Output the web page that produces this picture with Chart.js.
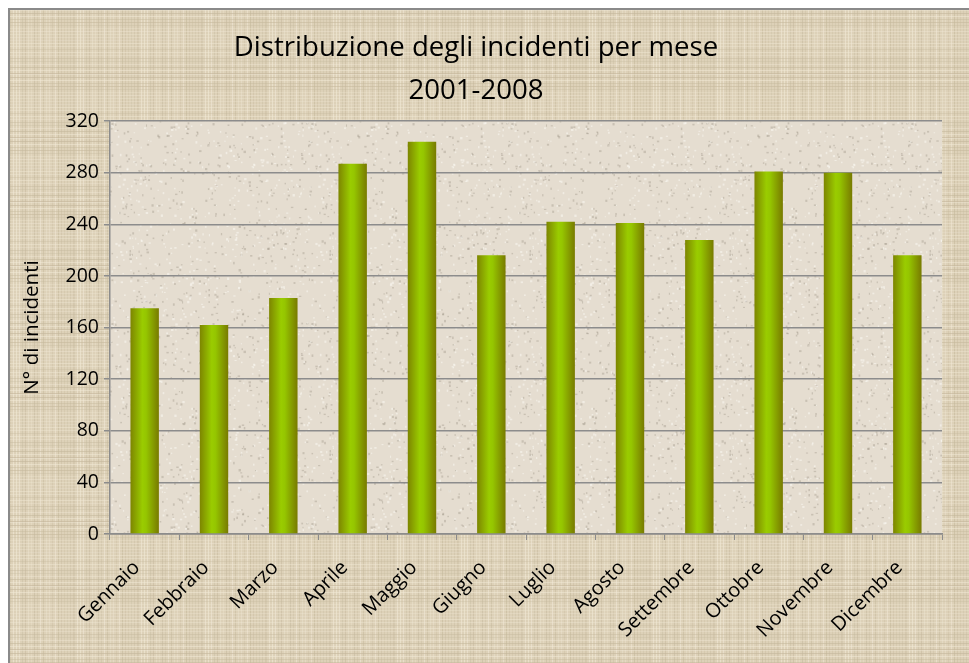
<!DOCTYPE html>
<html>
<head>
<meta charset="utf-8">
<script src="https://cdn.jsdelivr.net/npm/chart.js@4/dist/chart.umd.min.js"></script>
<style>
  html, body { margin: 0; padding: 0; background: #ffffff; }
  #box {
    position: absolute; left: 8px; top: 8px; width: 961px; height: 655px;
    border-top: 2px solid #8a8a8a; border-left: 2px solid #8a8a8a;
    background-color: #ded3bb;
  }
  canvas { display: block; }
</style>
</head>
<body>
<div id="box"><canvas id="grafico"></canvas></div>
<script>
const mesi = ['Gennaio', 'Febbraio', 'Marzo', 'Aprile', 'Maggio', 'Giugno',
  'Luglio', 'Agosto', 'Settembre', 'Ottobre', 'Novembre', 'Dicembre'];
const incidenti = [175, 162, 183, 287, 304, 216, 242, 241, 228, 281, 280, 216];
const titolo = ['Distribuzione degli incidenti per mese', '2001-2008'];
const titoloAsseY = 'N\u00B0 di incidenti';

const FONT = "'Open Sans', 'DejaVu Sans', sans-serif";
const BAR_PCT = 0.41;

// trama della tela di sfondo (solo decorazione)
function seme(n) {
  let x = Math.sin(n * 12.9898) * 43758.5453;
  return x - Math.floor(x);
}
function tela(w, h, base, chiaro, scuro, passo) {
  const c = document.createElement('canvas');
  c.width = w; c.height = h;
  const g = c.getContext('2d');
  g.fillStyle = base;
  g.fillRect(0, 0, w, h);
  for (let i = 0; i < w; i += passo) {
    g.fillStyle = seme(i) > 0.5 ? chiaro : scuro;
    g.globalAlpha = 0.25 + seme(i + 7) * 0.35;
    g.fillRect(i, 0, 1, h);
  }
  for (let j = 0; j < h; j += passo) {
    g.fillStyle = seme(j + 101) > 0.5 ? chiaro : scuro;
    g.globalAlpha = 0.25 + seme(j + 33) * 0.35;
    g.fillRect(0, j, w, 1);
  }
  g.globalAlpha = 1;
  return c;
}
function carta(w, h) {
  const c = document.createElement('canvas');
  c.width = w; c.height = h;
  const g = c.getContext('2d');
  g.fillStyle = '#e5ddd0';
  g.fillRect(0, 0, w, h);
  for (let k = 0; k < 900; k++) {
    const x = seme(k * 3 + 1) * w, y = seme(k * 5 + 2) * h;
    g.fillStyle = seme(k + 9) > 0.5 ? 'rgba(150,140,125,0.35)' : 'rgba(255,255,250,0.45)';
    g.fillRect(x, y, 1 + seme(k) * 1.5, 1 + seme(k + 4) * 1.5);
  }
  return c;
}

const sfondoTela = tela(64, 64, '#ddd1b8', '#f1e9d6', '#c4b79b', 3);
document.getElementById('box').style.backgroundImage = 'url(' + sfondoTela.toDataURL() + ')';
const sfondoCarta = carta(200, 200);

const pianoPlugin = {
  id: 'piano',
  beforeDraw(chart) {
    const { ctx, chartArea: a } = chart;
    ctx.save();
    ctx.fillStyle = ctx.createPattern(sfondoCarta, 'repeat');
    ctx.fillRect(a.left, a.top, a.right - a.left, a.bottom - a.top);
    ctx.restore();
  }
};

function coloreBarra(context) {
  const chart = context.chart;
  const sx = chart.scales.x;
  if (!sx || !chart.chartArea) return '#8fb800';
  const cx = sx.getPixelForValue(context.dataIndex);
  const w = (chart.chartArea.right - chart.chartArea.left) / mesi.length * BAR_PCT;
  const g = chart.ctx.createLinearGradient(cx - w / 2, 0, cx + w / 2, 0);
  g.addColorStop(0, '#7d8500');
  g.addColorStop(0.42, '#9acc00');
  g.addColorStop(0.55, '#95c600');
  g.addColorStop(1, '#787a00');
  return g;
}

new Chart(document.getElementById('grafico'), {
  type: 'bar',
  data: {
    labels: mesi,
    datasets: [{
      label: 'Incidenti',
      data: incidenti,
      backgroundColor: coloreBarra,
      borderWidth: 0,
      barPercentage: BAR_PCT,
      categoryPercentage: 1
    }]
  },
  options: {
    responsive: true,
    maintainAspectRatio: false,
    animation: false,
    layout: { padding: { left: 0, right: 29, top: 0, bottom: 0 } },
    plugins: {
      legend: { display: false },
      tooltip: { enabled: false },
      title: {
        display: true,
        text: titolo,
        color: '#000000',
        font: { family: FONT, size: 27.6, weight: 'normal', lineHeight: 1.58 },
        padding: { top: 16, bottom: 8 }
      }
    },
    scales: {
      x: {
        grid: { drawOnChartArea: false, drawTicks: true, tickLength: 6, color: '#8c8c8c' },
        border: { color: '#8c8c8c', width: 1.5 },
        ticks: {
          color: '#000000', maxRotation: 45, minRotation: 45, padding: 16,
          labelOffset: -8,
          font: { family: FONT, size: 20 }
        },
        afterFit(scale) { scale.height = 131; }
      },
      y: {
        min: 0, max: 320,
        ticks: {
          stepSize: 40, color: '#000000', padding: 5,
          font: { family: FONT, size: 19.5 }
        },
        grid: { color: '#8c8c8c', lineWidth: 1.5, tickLength: 6 },
        border: { color: '#8c8c8c', width: 1.5 },
        title: {
          display: true, text: titoloAsseY, color: '#000000',
          font: { family: FONT, size: 20.5 }, padding: { top: 10, bottom: 0 }
        },
        afterFit(scale) { scale.width = 100; }
      }
    }
  },
  plugins: [pianoPlugin]
});
</script>
</body>
</html>
